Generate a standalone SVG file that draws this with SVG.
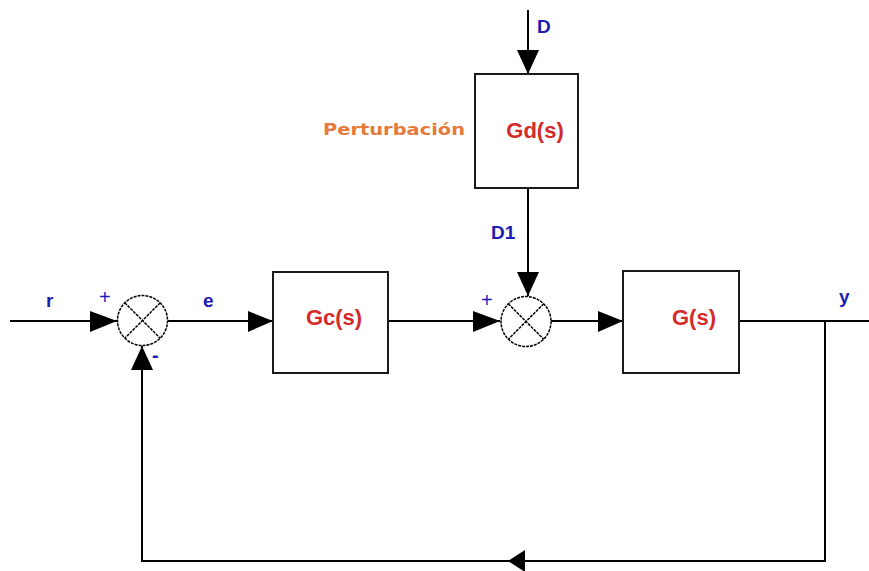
<svg xmlns="http://www.w3.org/2000/svg" width="869" height="571" viewBox="0 0 869 571">
<style>
.ln{stroke:#000;stroke-width:2;fill:none}
.blk{fill:#fff;stroke:#1a1a1a;stroke-width:2}
.sum{fill:#fff;stroke:#000;stroke-width:1.5;stroke-dasharray:3 1}
.x{stroke:#000;stroke-width:1.5;stroke-dasharray:3 1}
.tf{font-family:"Liberation Sans",Arial,sans-serif;font-weight:bold;font-size:22px;fill:#d42a2a;text-anchor:middle}
.lb{font-family:"Liberation Sans",Arial,sans-serif;font-weight:bold;font-size:19px;fill:#1c1cb4}
.pert{font-family:"DejaVu Sans",sans-serif;font-weight:bold;font-size:15px;fill:#e67a3c}
.ah{fill:#000}
</style>
<rect width="869" height="571" fill="#fff"/>
<g id="connectors">
<line class="ln" x1="10" y1="321" x2="117" y2="321"/>
<polygon class="ah" points="90,311 117,321 90,332"/>
<line class="ln" x1="168" y1="321" x2="273" y2="321"/>
<polygon class="ah" points="248,311 273,321 248,332"/>
<line class="ln" x1="388" y1="321" x2="500" y2="321"/>
<polygon class="ah" points="473,311 500,321 473,332"/>
<line class="ln" x1="551" y1="321" x2="623" y2="321"/>
<polygon class="ah" points="598,311 623,321 598,332"/>
<line class="ln" x1="739" y1="321" x2="869" y2="321"/>
<line class="ln" x1="528" y1="10" x2="528" y2="74"/>
<polygon class="ah" points="517,50 528,74 539,50"/>
<line class="ln" x1="528" y1="188" x2="528" y2="296"/>
<polygon class="ah" points="517,272 528,296 539,272"/>
<polyline class="ln" points="825,321 825,561 142,561 142,346"/>
<polygon class="ah" points="131,370 142,346 153,370"/>
<polygon class="ah" points="508,561 525,550 525,572"/>
</g>
<g id="sum1">
<circle class="sum" cx="142.5" cy="320.5" r="25"/>
<line class="x" x1="124.8" y1="302.8" x2="160.2" y2="338.2"/>
<line class="x" x1="160.2" y1="302.8" x2="124.8" y2="338.2"/>
</g>
<g id="sum2">
<circle class="sum" cx="526" cy="321.5" r="25"/>
<line class="x" x1="508.3" y1="303.8" x2="543.7" y2="339.2"/>
<line class="x" x1="543.7" y1="303.8" x2="508.3" y2="339.2"/>
</g>
<g id="Gc">
<rect class="blk" x="273" y="272" width="115" height="101"/>
<text class="tf" x="334" y="325">Gc(s)</text>
</g>
<g id="Gd">
<rect class="blk" x="475" y="74" width="103" height="114"/>
<text class="tf" x="535" y="138">Gd(s)</text>
</g>
<g id="G">
<rect class="blk" x="623" y="271" width="116" height="102"/>
<text class="tf" x="694" y="325">G(s)</text>
</g>
<g id="labels">
<text class="lb" x="46" y="307">r</text>
<text class="lb" x="99" y="304" style="font-weight:normal;font-size:20px">+</text>
<text class="lb" x="152" y="362" style="font-size:20px">-</text>
<text class="lb" x="203" y="307">e</text>
<text class="lb" x="481" y="307" style="font-weight:normal;font-size:20px">+</text>
<text class="lb" x="537" y="33">D</text>
<text class="lb" x="491" y="239">D1</text>
<text class="lb" x="839" y="303">y</text>
<text class="pert" x="323" y="135" textLength="142" lengthAdjust="spacingAndGlyphs">Perturbación</text>
</g>
</svg>
